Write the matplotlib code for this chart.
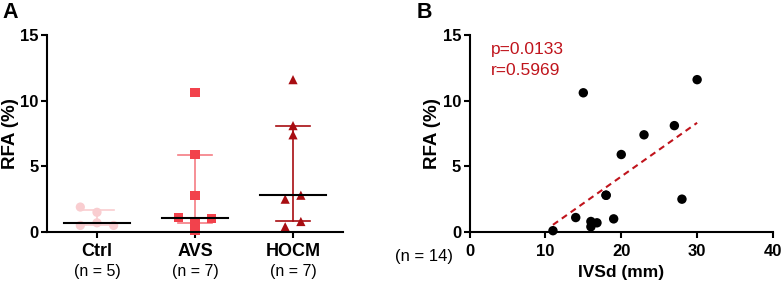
import numpy as np
import matplotlib
matplotlib.use("Agg")
import matplotlib.pyplot as plt
from matplotlib.transforms import blended_transform_factory

plt.rcParams["font.family"] = ["Liberation Sans", "DejaVu Sans"]

# panel A data
groups = ["Ctrl", "AVS", "HOCM"]
group_n = ["(n = 5)", "(n = 7)", "(n = 7)"]
ctrl_rfa = [1.9, 1.5, 0.7, 0.5, 0.5]
avs_rfa = [10.6, 5.9, 2.8, 1.1, 1.0, 0.7, 0.1]
hocm_rfa = [11.6, 8.1, 7.4, 2.8, 2.5, 0.8, 0.4]

# panel B data
ivsd = [15, 20, 18, 14, 19, 16.8, 11, 30, 27, 23, 18, 28, 16, 16]
rfa_all = [10.6, 5.9, 2.8, 1.1, 1.0, 0.7, 0.1, 11.6, 8.1, 7.4, 2.8, 2.5, 0.8, 0.4]
p_text = "p=0.0133"
r_text = "r=0.5969"

# horizontal spread of the dots (layout only)
jitter = [
    [-0.17, 0.0, 0.0, -0.17, 0.17],
    [0.0, 0.0, 0.0, -0.17, 0.17, 0.0, 0.0],
    [0.0, 0.0, 0.0, 0.08, -0.08, 0.08, -0.08],
]

dot_colors = ["#f9cdd0", "#f2424c", "#a80d12"]
bar_colors = ["#f9cdd0", "#f57d84", "#a80d12"]
markers = ["o", "s", "^"]
dark_red = "#c0141c"

fig = plt.figure(figsize=(7.82, 2.87), dpi=100)
axA = fig.add_axes([47 / 782, 55 / 287, 296 / 782, 197 / 287])
axB = fig.add_axes([469.5 / 782, 55 / 287, 303.5 / 782, 197 / 287])


def style_axis(ax):
    for side in ["top", "right"]:
        ax.spines[side].set_visible(False)
    for side in ["left", "bottom"]:
        ax.spines[side].set_linewidth(1.5)
    ax.tick_params(width=1.5, length=4, direction="out", labelsize=12)
    ax.tick_params(axis="y", pad=2)
    for lab in ax.get_xticklabels() + ax.get_yticklabels():
        lab.set_fontweight("bold")


### panel A: scatter with median and interquartile range
for i, vals in enumerate([ctrl_rfa, avs_rfa, hocm_rfa]):
    vals = np.array(vals)
    q1, med, q3 = np.percentile(vals, [25, 50, 75], method="weibull")
    axA.plot([i, i], [q1, q3], color=bar_colors[i], lw=1.2, zorder=1)
    for q in (q1, q3):
        axA.plot([i - 0.17, i + 0.17], [q, q], color=bar_colors[i], lw=1.2, zorder=1)
    axA.scatter(i + np.array(jitter[i]), vals, marker=markers[i], s=44,
                color=dot_colors[i], edgecolors="none", zorder=2, clip_on=False)
    axA.plot([i - 0.34, i + 0.34], [med, med], color="black", lw=1.5, zorder=3)

axA.set_xlim(-0.51, 2.51)
axA.set_ylim(0, 15)
axA.set_yticks([0, 5, 10, 15])
axA.set_xticks(range(len(groups)))
axA.set_xticklabels(groups)
axA.set_ylabel("RFA (%)", fontsize=13.5, fontweight="bold", labelpad=1)
style_axis(axA)
axA.tick_params(axis="x", pad=4, labelsize=13)
trA = blended_transform_factory(axA.transData, axA.transAxes)
for i, t in enumerate(group_n):
    axA.text(i, -0.2, t, transform=trA, ha="center", va="center", fontsize=11.5)
fig.text(2 / 782, 1 - 12 / 287, "A", fontsize=15.5, fontweight="bold", va="center")

### panel B: correlation
x = np.array(ivsd)
y = np.array(rfa_all)
slope, intercept = np.polyfit(x, y, 1)
xfit = np.array([x.min(), x.max()])
axB.plot(xfit, slope * xfit + intercept, color=dark_red, lw=1.5, ls=(0, (3, 2.2)), zorder=1)
axB.scatter(x, y, s=46, color="black", edgecolors="none", zorder=2, clip_on=False)

axB.set_xlim(0, 40)
axB.set_ylim(0, 15)
axB.set_xticks([0, 10, 20, 30, 40])
axB.set_yticks([0, 5, 10, 15])
axB.set_xlabel("IVSd (mm)", fontsize=12.5, fontweight="bold", labelpad=4)
axB.set_ylabel("RFA (%)", fontsize=13.5, fontweight="bold", labelpad=1)
style_axis(axB)
axB.tick_params(axis="x", pad=5)
axB.text(0.07, 0.924, p_text, transform=axB.transAxes, color=dark_red, fontsize=12.5, va="center")
axB.text(0.07, 0.822, r_text, transform=axB.transAxes, color=dark_red, fontsize=12.5, va="center")
axB.text(-0.245, -0.125, "(n = 14)", transform=axB.transAxes, ha="left", va="center", fontsize=12)
fig.text(417 / 782, 1 - 13 / 287, "B", fontsize=15.5, fontweight="bold", va="center")

fig.savefig("out.png", dpi=100)
